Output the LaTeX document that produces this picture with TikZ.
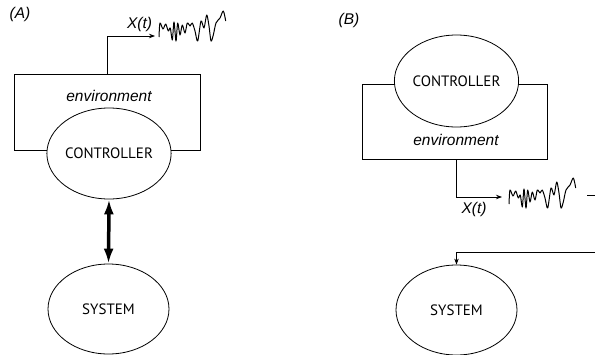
\documentclass[tikz,border=0pt]{standalone}
\usepackage{fontspec}
\setmainfont{Liberation Sans}
\newfontfamily\capfont{PT Sans}
\usetikzlibrary{shapes.geometric,arrows.meta}
\newcommand\wigglepath[1]{%
  \draw[wig,shift={#1}] plot[smooth,tension=0.5] coordinates {
    (0,29) (1,15) (4,21) (6.7,16) (9.3,23) (11.3,20) (13.3,32) (15,14) (17,33) (18.7,15)
    (21,27) (23.3,17) (26,25) (28.3,15) (31,18) (33.3,15) (36,23) (38.7,33) (42,13) (45,20)
    (47.7,7) (50,18) (52,33) (54.3,27) (57,15) (61,10) (64.3,3) (66.7,13)};}
\begin{document}
\begin{tikzpicture}[x=1pt,y=-1pt,
  ell/.style={ellipse, draw, fill=white, line width=0.8pt, inner sep=0pt,
    font=\capfont\fontsize{15}{15}\selectfont},
  envbox/.style={draw, rectangle, line width=0.8pt, inner sep=0pt},
  itl/.style={font=\itshape\fontsize{15.5}{15.5}\selectfont, inner sep=0pt},
  thinarrow/.style={line width=0.8pt, -{Stealth[length=6pt,width=4.5pt]}},
  wig/.style={line width=1pt, line join=round}]
\useasboundingbox (0,0) rectangle (595,354);

% ---------- (A) ----------
\node[itl] (labA) at (20,14) {(A)};
\node[envbox, minimum width=186pt, minimum height=76pt] (envA) at (107,112) {};
\node[itl] (envtxtA) at (109,96) {environment};
\node[ell, minimum width=121pt, minimum height=91pt] (ctrlA) at (109,153.5) {CONTROLLER};
\node[ell, minimum width=121pt, minimum height=90pt] (sysA) at (108.5,309) {SYSTEM};
\draw[line width=3.5pt, {Latex[length=15pt,width=10pt]}-{Latex[length=15pt,width=10pt]}]
  (ctrlA.south) -- (sysA.north);
\coordinate (xA) at (155,36);
\draw[thinarrow] (envA.north) -- (envA.north |- xA) -- (xA);
\node[itl, anchor=base] (xtA) at (139.5,28) {X(t)};
\wigglepath{(159,8)}

% ---------- (B) ----------
\node[itl] (labB) at (349,20) {(B)};
\node[envbox, minimum width=185pt, minimum height=75pt] (envB) at (454.5,121.5) {};
\node[ell, minimum width=121pt, minimum height=92pt] (ctrlB) at (456.5,81) {CONTROLLER};
\node[itl] (envtxtB) at (456,140) {environment};
\coordinate (xB) at (502,197);
\draw[thinarrow] (ctrlB |- envB.south) -- (ctrlB |- xB) -- (xB);
\node[itl] (xtB) at (474,209) {X(t)};
\wigglepath{(509,175)}
\coordinate (dashL) at (587,195);
\coordinate (dashR) at (595,195);
\draw[line width=0.8pt] (dashL) -- (dashR);
\node[ell, minimum width=121pt, minimum height=90pt] (sysB) at (456.5,310) {SYSTEM};
\coordinate (fb) at (595,252);
\draw[thinarrow] (fb) -- (fb -| sysB.north) -- (sysB.north);
\end{tikzpicture}
\end{document}
